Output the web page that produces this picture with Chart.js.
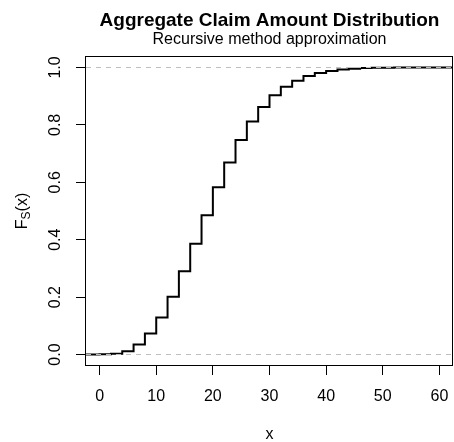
<!DOCTYPE html>
<html>
<head>
<meta charset="utf-8">
<script src="https://cdn.jsdelivr.net/npm/chart.js@4/dist/chart.umd.min.js"></script>
<style>
  html, body { margin: 0; padding: 0; background: #fff; }
  canvas { display: block; }
</style>
</head>
<body>
<canvas id="chart" width="454" height="442"></canvas>
<script>
// jump points of the step function and F_S(x) from x onward
const jumpX = [0, 2, 4, 6, 8, 10, 12, 14, 16, 18, 20, 22, 24, 26, 28, 30,
               32, 34, 36, 38, 40, 42, 44, 46, 48, 50, 52, 54, 56, 58, 60];
const cdfValues = [0.001, 0.003, 0.011, 0.035, 0.073, 0.129, 0.201, 0.290, 0.386, 0.485,
                   0.583, 0.669, 0.747, 0.812, 0.862, 0.903, 0.933, 0.954, 0.970, 0.981,
                   0.988, 0.993, 0.996, 0.998, 0.999, 0.9995, 0.9998, 0.9999, 1, 1, 1];
const xTicks = [0, 10, 20, 30, 40, 50, 60];
const yTicks = [0, 0.2, 0.4, 0.6, 0.8, 1.0];
const refLines = [0, 1];

const xMin = -2.4, xMax = 62.4;
const FONT = '"Liberation Sans", Arial, Helvetica, sans-serif';

const stepPoints = [{x: xMin, y: 0}]
    .concat(jumpX.map((x, i) => ({x: x, y: cdfValues[i]})))
    .concat([{x: xMax, y: cdfValues[cdfValues.length - 1]}]);

const refDatasets = refLines.map(h => ({
    data: [{x: xMin, y: h}, {x: xMax, y: h}],
    borderColor: '#bebebe',
    borderWidth: 1,
    borderDash: [5, 5],
    pointRadius: 0,
    order: 1
}));

// box around the plot region plus the R-style texts
const decorations = {
    id: 'decorations',
    afterDraw(chart) {
        const ctx = chart.ctx;
        const ca = chart.chartArea;
        const cx = (ca.left + ca.right) / 2;
        const cy = (ca.top + ca.bottom) / 2;
        const yScale = chart.scales.y;

        ctx.save();
        ctx.strokeStyle = '#000';
        ctx.lineWidth = 1;
        ctx.strokeRect(Math.round(ca.left) - 0.5, Math.round(ca.top) + 0.5,
            Math.round(ca.right - ca.left), Math.round(ca.bottom - ca.top) - 1);

        ctx.fillStyle = '#000';
        ctx.textAlign = 'center';
        ctx.textBaseline = 'alphabetic';
        ctx.font = 'bold 19px ' + FONT;
        ctx.fillText('Aggregate Claim Amount Distribution', cx, 26);
        ctx.font = '16px ' + FONT;
        ctx.fillText('Recursive method approximation', cx, 44);
        ctx.fillText('x', cx, 439);

        // rotated y tick labels
        yTicks.forEach(v => {
            ctx.save();
            ctx.translate(59.5, yScale.getPixelForValue(v));
            ctx.rotate(-Math.PI / 2);
            ctx.fillText(v.toFixed(1), 0, 0);
            ctx.restore();
        });

        // y title F_S(x)
        ctx.save();
        ctx.translate(27, cy);
        ctx.rotate(-Math.PI / 2);
        ctx.textAlign = 'left';
        ctx.font = '16px ' + FONT;
        const wF = ctx.measureText('F').width;
        const wP = ctx.measureText('(x)').width;
        ctx.font = '12px ' + FONT;
        const wS = ctx.measureText('S').width;
        let x0 = -(wF + wS + wP) / 2;
        ctx.font = '16px ' + FONT;
        ctx.fillText('F', x0, 0);
        ctx.font = '12px ' + FONT;
        ctx.fillText('S', x0 + wF, 3);
        ctx.font = '16px ' + FONT;
        ctx.fillText('(x)', x0 + wF + wS, 0);
        ctx.restore();

        ctx.restore();
    }
};

new Chart(document.getElementById('chart'), {
    type: 'line',
    data: {
        datasets: refDatasets.concat([{
            data: stepPoints,
            borderColor: '#000',
            borderWidth: 2,
            stepped: true,
            pointRadius: 0,
            fill: false,
            order: 2
        }])
    },
    options: {
        responsive: false,
        animation: false,
        devicePixelRatio: 1,
        layout: {padding: {top: 56, right: 1, left: 0, bottom: 0}},
        plugins: {legend: {display: false}, tooltip: {enabled: false}, title: {display: false}},
        scales: {
            x: {
                type: 'linear',
                min: xMin,
                max: xMax,
                afterBuildTicks: s => { s.ticks = xTicks.map(v => ({value: v})); },
                afterFit: s => { s.height = 76; s.paddingLeft = 0; s.paddingRight = 0; },
                grid: {drawOnChartArea: false, tickLength: 9, color: '#000'},
                border: {display: false},
                ticks: {color: '#000', font: {family: FONT, size: 16}, padding: 12, maxRotation: 0,
                        callback: v => String(v)}
            },
            y: {
                type: 'linear',
                min: -0.04,
                max: 1.04,
                afterBuildTicks: s => { s.ticks = yTicks.map(v => ({value: v})); },
                afterFit: s => { s.width = 86; s.paddingTop = 0; s.paddingBottom = 0; },
                grid: {drawOnChartArea: false, tickLength: 10, color: '#000'},
                border: {display: false},
                ticks: {display: false}
            }
        }
    },
    plugins: [decorations]
});
</script>
</body>
</html>
